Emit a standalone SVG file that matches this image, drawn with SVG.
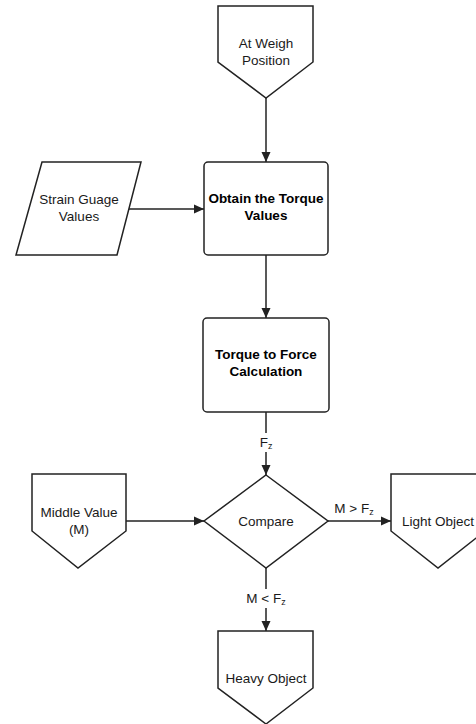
<svg xmlns="http://www.w3.org/2000/svg" width="476" height="724" viewBox="0 0 476 724">
<style>
.shape{fill:#fff;stroke:#222;stroke-width:1.5;stroke-linejoin:miter}
.t{font-family:"Liberation Sans",Arial,sans-serif;font-size:13.5px;fill:#1a1a1a;text-anchor:middle}
.b{font-weight:bold;fill:#000}
.line{fill:none;stroke:#222;stroke-width:1.5}
.lbl{font-family:"Liberation Sans",Arial,sans-serif;font-size:13.5px;fill:#1a1a1a;text-anchor:middle}
.sub{font-size:9px}
</style>
<defs>
<marker id="ah" viewBox="0 0 10 10" refX="10" refY="5" markerWidth="10" markerHeight="10" markerUnits="userSpaceOnUse" orient="auto">
<path d="M0,0.5 L10,5 L0,9.5 z" fill="#222"/>
</marker>
</defs>
<rect width="476" height="724" fill="#fff"/>
<g id="connectors">
<path class="line" d="M266,98 V162" marker-end="url(#ah)"/>
<path class="line" d="M129,209 H204" marker-end="url(#ah)"/>
<path class="line" d="M266,255 V318" marker-end="url(#ah)"/>
<path class="line" d="M266,412 V433"/>
<path class="line" d="M266,452 V475" marker-end="url(#ah)"/>
<text class="lbl" x="266" y="447">F<tspan class="sub" dy="2">z</tspan></text>
<path class="line" d="M126,521 H204" marker-end="url(#ah)"/>
<path class="line" d="M328,521 H391" marker-end="url(#ah)"/>
<text class="lbl" x="354" y="513">M &gt; F<tspan class="sub" dy="2">z</tspan></text>
<path class="line" d="M266,568 V589"/>
<path class="line" d="M266,608 V631" marker-end="url(#ah)"/>
<text class="lbl" x="266" y="603">M &lt; F<tspan class="sub" dy="2">z</tspan></text>
</g>
<g id="at-weigh-position">
<polygon class="shape" points="218,6 313,6 313,62 266,98 218,62"/>
<text class="t" x="266" y="48">At Weigh</text>
<text class="t" x="266" y="65">Position</text>
</g>
<g id="strain-guage-values">
<polygon class="shape" points="42,162 141,162 117,255 16,255"/>
<text class="t" x="79" y="204">Strain Guage</text>
<text class="t" x="79" y="221">Values</text>
</g>
<g id="obtain-torque">
<rect class="shape" x="204" y="162" width="124" height="93" rx="4"/>
<text class="t b" x="266" y="203">Obtain the Torque</text>
<text class="t b" x="266" y="220">Values</text>
</g>
<g id="torque-to-force">
<rect class="shape" x="203" y="318" width="126" height="94" rx="4"/>
<text class="t b" x="266" y="359">Torque to Force</text>
<text class="t b" x="266" y="376">Calculation</text>
</g>
<g id="compare">
<polygon class="shape" points="266,475 328,521 266,568 204,521"/>
<text class="t" x="266" y="526">Compare</text>
</g>
<g id="middle-value">
<polygon class="shape" points="32,474 126,474 126,531 78,568 32,531"/>
<text class="t" x="79" y="517">Middle Value</text>
<text class="t" x="79" y="534">(M)</text>
</g>
<g id="light-object">
<polygon class="shape" points="391,474 485,474 485,531 438,568 391,531"/>
<text class="t" x="438" y="526">Light Object</text>
</g>
<g id="heavy-object">
<polygon class="shape" points="218,631 313,631 313,688 266,724 218,688"/>
<text class="t" x="266" y="683">Heavy Object</text>
</g>
</svg>
